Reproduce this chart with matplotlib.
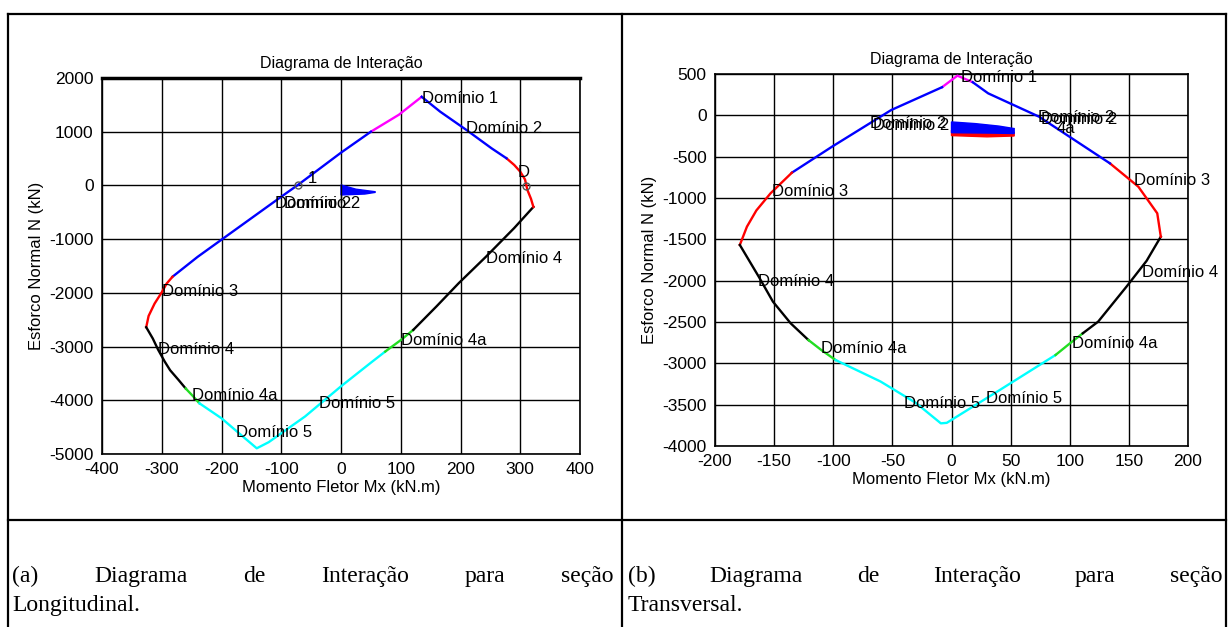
import numpy as np
import matplotlib.pyplot as plt
from matplotlib.lines import Line2D

W, H = 1228, 627

# ---- (a) secao longitudinal: contorno do diagrama, por dominio ----
a_mag_x = [135, 97, 50]
a_mag_y = [1650, 1317, 1000]
a_blue1_x = [50, 0, -72, -100, -200, -240, -282]
a_blue1_y = [1000, 610, 10, -210, -1010, -1330, -1700]
a_red1_x = [-282, -292, -300, -312, -322, -326]
a_red1_y = [-1700, -1830, -1990, -2200, -2430, -2640]
a_blk1_x = [-326, -315, -306, -295, -286, -272, -260]
a_blk1_y = [-2640, -2850, -3060, -3280, -3440, -3620, -3780]
a_grn1_x = [-260, -248, -237]
a_grn1_y = [-3780, -3920, -4056]
a_cyan_x = [-237, -200, -170, -141, -121, -60, 0, 50, 74]
a_cyan_y = [-4056, -4335, -4620, -4894, -4780, -4300, -3740, -3300, -3093]
a_grn2_x = [74, 100, 121]
a_grn2_y = [-3093, -2880, -2689]
a_blk2_x = [121, 160, 197, 243, 290, 322]
a_blk2_y = [-2689, -2250, -1820, -1323, -792, -400]
a_red2_x = [322, 318, 312, 308, 300, 290, 277]
a_red2_y = [-400, -250, -85, 110, 256, 380, 505]
a_blue2_x = [277, 252, 210, 166, 135]
a_blue2_y = [505, 691, 1032, 1373, 1650]
# mancha perto da origem
a_blob_x = [0, 25, 57, 57, 40, 0]
a_blob_y = [8, -70, -117, -130, -160, -178]
a_labels = [
    ("Domínio 1", 135, 1627), ("Domínio 2", 210, 1068), ("D", 296, 242),
    ("Domínio 2", -111, -329), ("Domínio 2", -95, -329), ("1", -55, 133),
    ("Domínio 4", 242, -1354), ("Domínio 3", -299, -1975),
    ("Domínio 4", -306, -3062), ("Domínio 4a", -250, -3919),
    ("Domínio 4a", 100, -2888), ("Domínio 5", -36, -4056),
    ("Domínio 5", -175, -4602),
]
a_marks_x = [-72, 309]
a_marks_y = [8, -18]

# ---- (b) secao transversal ----
b_mag_x = [-8, 5, 18]
b_mag_y = [340, 480, 400]
b_blue1_x = [-8, -51, -101, -135]
b_blue1_y = [340, 64, -379, -694]
b_red1_x = [-135, -153, -165, -173, -179]
b_red1_y = [-694, -943, -1150, -1347, -1568]
b_blk1_x = [-179, -163, -151, -136, -121]
b_blk1_y = [-1568, -1952, -2254, -2516, -2718]
b_grn1_x = [-121, -110, -98]
b_grn1_y = [-2718, -2840, -2960]
b_cyan_x = [-98, -60, -30, -9, -4, 40, 88]
b_cyan_y = [-2960, -3220, -3480, -3726, -3720, -3330, -2899]
b_grn2_x = [88, 100, 111]
b_grn2_y = [-2899, -2760, -2637]
b_blk2_x = [111, 124, 148, 165, 177]
b_blk2_y = [-2637, -2496, -2072, -1760, -1468]
b_red2_x = [177, 174, 158, 134]
b_red2_y = [-1468, -1185, -863, -581]
b_blue2_x = [134, 74, 31, 18]
b_blue2_y = [-581, -16, 266, 400]
b_blob_x = [0, 20, 40, 53, 53, 35, 0]
b_blob_y = [-80, -100, -130, -160, -220, -215, -210]
b_red_blob_x = [0, 20, 40, 53, 53, 30, 0]
b_red_blob_y = [-180, -190, -200, -205, -250, -260, -245]
b_labels = [
    ("Domínio 1", 8, 460), ("Domínio 2", 73, -24), ("Domínio 2", 76, -45),
    ("Domínio 2", -66, -117), ("Domínio 2", -69, -98), ("4a", 89, -160),
    ("Domínio 3", -152, -923), ("Domínio 3", 154, -794),
    ("Domínio 4", -164, -2012), ("Domínio 4", 161, -1903),
    ("Domínio 4a", -110, -2818), ("Domínio 4a", 102, -2758),
    ("Domínio 5", -40, -3484), ("Domínio 5", 29, -3431),
]

MAG, BLUE, RED, BLK, GRN, CYAN = "#ff00ff", "#0000ff", "#ff0000", "#000000", "#22dd22", "#00ffff"

plt.rcParams["font.family"] = ["Liberation Sans", "DejaVu Sans"]
plt.rcParams["axes.unicode_minus"] = False
fig = plt.figure(figsize=(W / 100, H / 100), dpi=100)


def make_ax(l, t, r, b):
    return fig.add_axes([l / W, 1 - b / H, (r - l) / W, (b - t) / H])


def style(ax, xlim, ylim, xt, yt):
    ax.set_xlim(xlim)
    ax.set_ylim(ylim)
    ax.set_xticks(xt)
    ax.set_yticks(yt)
    ax.grid(True, color="black", lw=1.0)
    ax.tick_params(length=0, labelsize=12.5, pad=6)
    for s in ax.spines.values():
        s.set_linewidth(1.2)
    ax.set_title("Diagrama de Interação", fontsize=11.5, pad=7)
    ax.set_xlabel("Momento Fletor Mx (kN.m)", fontsize=12, labelpad=2)
    ax.set_ylabel("Esforco Normal N (kN)", fontsize=12, labelpad=4)


# (a)
ax1 = make_ax(102, 78, 580, 454)
style(ax1, (-400, 400), (-5000, 2000), np.arange(-400, 401, 100), np.arange(-5000, 2001, 1000))
ax1.spines["top"].set_linewidth(2.5)
for xs, ys, c in [(a_mag_x, a_mag_y, MAG), (a_blue1_x, a_blue1_y, BLUE), (a_red1_x, a_red1_y, RED),
                  (a_blk1_x, a_blk1_y, BLK), (a_grn1_x, a_grn1_y, GRN), (a_cyan_x, a_cyan_y, CYAN),
                  (a_grn2_x, a_grn2_y, GRN), (a_blk2_x, a_blk2_y, BLK), (a_red2_x, a_red2_y, RED),
                  (a_blue2_x, a_blue2_y, BLUE)]:
    ax1.plot(xs, ys, color=c, lw=1.7, zorder=3)
ax1.fill(a_blob_x, a_blob_y, color=BLUE, zorder=3)
ax1.plot([0, 0], [0, -300], color="black", lw=1, zorder=3)
ax1.plot(a_marks_x, a_marks_y, "o", mfc="none", mec="#555555", ms=5, zorder=4)
for s, x, y in a_labels:
    ax1.text(x, y, s, fontsize=12, ha="left", va="center", zorder=5)

# (b)
ax2 = make_ax(715, 74, 1188, 446)
style(ax2, (-200, 200), (-4000, 500), np.arange(-200, 201, 50), np.arange(-4000, 501, 500))
for xs, ys, c in [(b_mag_x, b_mag_y, MAG), (b_blue1_x, b_blue1_y, BLUE), (b_red1_x, b_red1_y, RED),
                  (b_blk1_x, b_blk1_y, BLK), (b_grn1_x, b_grn1_y, GRN), (b_cyan_x, b_cyan_y, CYAN),
                  (b_grn2_x, b_grn2_y, GRN), (b_blk2_x, b_blk2_y, BLK), (b_red2_x, b_red2_y, RED),
                  (b_blue2_x, b_blue2_y, BLUE)]:
    ax2.plot(xs, ys, color=c, lw=1.7, zorder=3)
ax2.fill(b_red_blob_x, b_red_blob_y, color=RED, zorder=3)
ax2.fill(b_blob_x, b_blob_y, color=BLUE, zorder=3)
for s, x, y in b_labels:
    ax2.text(x, y, s, fontsize=12, ha="left", va="center", zorder=5)

# moldura da tabela
def hline(y, x0, x1, lw=1.6):
    fig.add_artist(Line2D([x0 / W, x1 / W], [1 - y / H, 1 - y / H], color="black", lw=lw))


def vline(x, y0, y1, lw=1.6):
    fig.add_artist(Line2D([x / W, x / W], [1 - y0 / H, 1 - y1 / H], color="black", lw=lw))


hline(14, 8, 1226)
hline(520, 8, 1226)
vline(8, 14, 627)
vline(622, 14, 627)
vline(1226, 14, 627)

# legendas justificadas
renderer = fig.canvas.get_renderer()


def justify(words, x0, x1, y):
    ts = [fig.text(0, 1 - y / H, w, fontsize=17, family="Liberation Serif", va="baseline") for w in words]
    ws = [t.get_window_extent(renderer).width for t in ts]
    gap = (x1 - x0 - sum(ws)) / (len(words) - 1)
    x = x0
    for t, w in zip(ts, ws):
        t.set_x(x / W)
        x += w + gap


justify(["(a)", "Diagrama", "de", "Interação", "para", "seção"], 12, 614, 582)
fig.text(12 / W, 1 - 611 / H, "Longitudinal.", fontsize=17, family="Liberation Serif", va="baseline")
justify(["(b)", "Diagrama", "de", "Interação", "para", "seção"], 628, 1222, 582)
fig.text(628 / W, 1 - 611 / H, "Transversal.", fontsize=17, family="Liberation Serif", va="baseline")

fig.savefig("out.png", dpi=100)
